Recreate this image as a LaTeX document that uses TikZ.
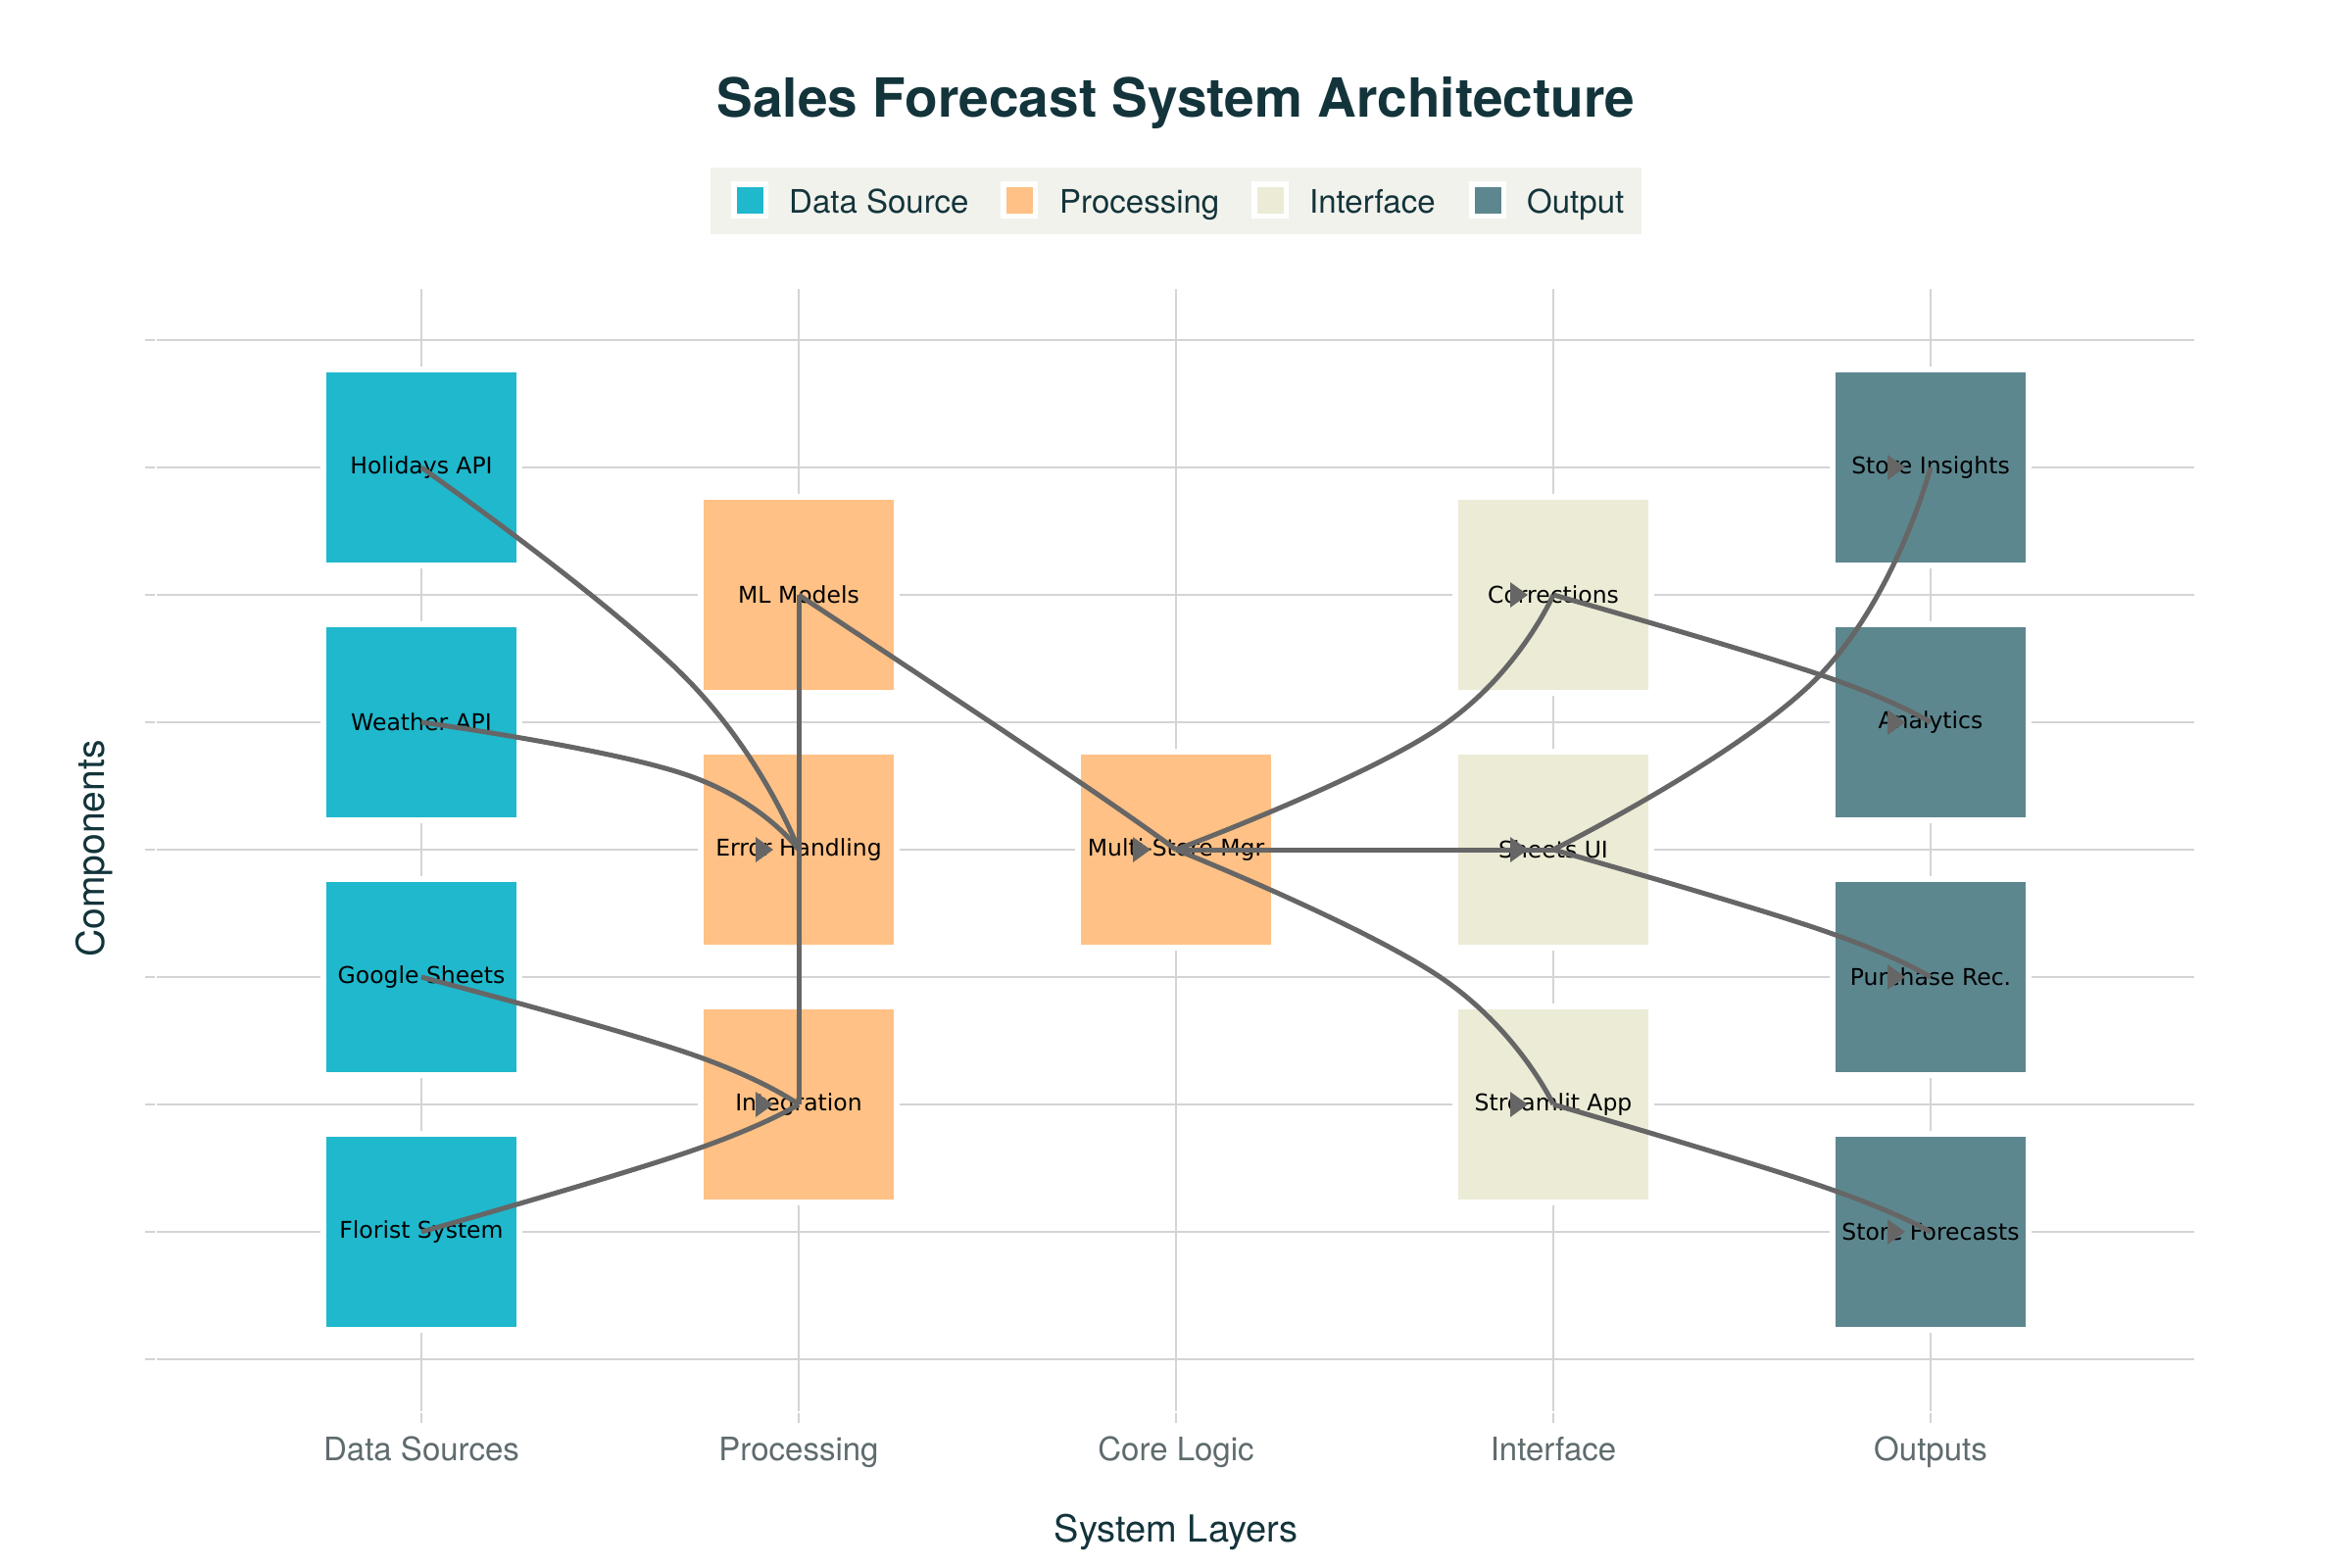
\documentclass[tikz,border=0pt]{standalone}
\usepackage{fontspec}
\setmainfont{TeX Gyre Heros}
\newfontfamily\djv{DejaVu Sans}
\usetikzlibrary{calc}
\definecolor{dsc}{HTML}{1FB8CD}
\definecolor{prc}{HTML}{FFC185}
\definecolor{ifc}{HTML}{ECEBD5}
\definecolor{outc}{HTML}{5D878F}
\definecolor{titc}{HTML}{13343B}
\definecolor{tickc}{HTML}{5F6B6E}
\definecolor{gridc}{HTML}{D4D4D4}
\definecolor{linec}{HTML}{666666}
\definecolor{legbg}{HTML}{F2F2EC}
\tikzset{
  gridline/.style={draw=gridc, line width=2pt},
  box/.style={rectangle, minimum width=200pt, minimum height=200pt, draw=white, line width=6pt, inner sep=0pt, text=black, font=\djv\fontsize{23.5}{28}\selectfont},
  conn/.style={draw=linec, line width=5pt, line join=round},
  tipfill/.style={fill=linec},
  legsq/.style={rectangle, minimum size=32.5pt, draw=white, line width=5.5pt, inner sep=0pt},
  legtxt/.style={anchor=base west, text=titc, font=\fontsize{33}{38}\selectfont, inner sep=0pt},
  ticklab/.style={anchor=base, text=tickc, font=\fontsize{33}{38}\selectfont, inner sep=0pt},
}
\newcommand\link[3]{%
  \path let \p1=(#1.center), \p2=(#2.center) in coordinate (m#1#2) at ({\x1+0.7*(\x2-\x1)},{\y1+#3*(\y2-\y1)});
  \draw[conn] plot[smooth,tension=0.75] coordinates {(#1.center) (m#1#2) (#2.center)};
}
\newcommand\tipat[1]{%
  \fill[tipfill] ([xshift=-44pt,yshift=13pt]#1.center) -- ([xshift=-26pt]#1.center) -- ([xshift=-44pt,yshift=-13pt]#1.center) -- cycle;
}
\begin{document}
\begin{tikzpicture}[x=1pt,y=-1pt]
\useasboundingbox (0,0) rectangle (2400,1600);
\fill[white] (0,0) rectangle (2400,1600);

% title
\node[anchor=base, text=titc, font=\bfseries\fontsize{55}{60}\selectfont, inner sep=0pt] (title) at (1200,120) {Sales Forecast System Architecture};

% legend
\fill[legbg] (725,171) rectangle (1675,239);
\node[legsq, fill=dsc] (lg1) at (765,204) {};
\node[legtxt] (lt1) at (805,217) {Data Source};
\node[legsq, fill=prc] (lg2) at (1040,204) {};
\node[legtxt] (lt2) at (1081,217) {Processing};
\node[legsq, fill=ifc] (lg3) at (1296,204) {};
\node[legtxt] (lt3) at (1336,217) {Interface};
\node[legsq, fill=outc] (lg4) at (1518,204) {};
\node[legtxt] (lt4) at (1558,217) {Output};

% grid
\foreach \r in {0,...,8} {
  \draw[gridline] (160,{347+130*\r}) -- (2239,{347+130*\r});
  \draw[gridline] (148,{347+130*\r}) -- (158,{347+130*\r});
}
\foreach \c in {0,...,4} {
  \draw[gridline] ({430+385*\c},295) -- ({430+385*\c},1440);
  \draw[gridline] ({430+385*\c},1442) -- ({430+385*\c},1452);
}

% axis labels
\node[ticklab] (x1) at (430,1490) {Data Sources};
\node[ticklab] (x2) at (815,1490) {Processing};
\node[ticklab] (x3) at (1200,1490) {Core Logic};
\node[ticklab] (x4) at (1585,1490) {Interface};
\node[ticklab] (x5) at (1970,1490) {Outputs};
\node[anchor=base, text=titc, font=\fontsize{38}{44}\selectfont, inner sep=0pt] (xt) at (1200,1573) {System Layers};
\node[anchor=base, rotate=90, text=titc, font=\fontsize{39}{44}\selectfont, inner sep=0pt] (yt) at (106,866) {Components};

% nodes
\node[box, fill=dsc] (hol) at (430,477) {Holidays API};
\node[box, fill=dsc] (wea) at (430,737) {Weather API};
\node[box, fill=dsc] (goo) at (430,997) {Google Sheets};
\node[box, fill=dsc] (flo) at (430,1257) {Florist System};
\node[box, fill=prc] (ml) at (815,607) {ML Models};
\node[box, fill=prc] (err) at (815,867) {Error Handling};
\node[box, fill=prc] (int) at (815,1127) {Integration};
\node[box, fill=prc] (multi) at (1200,867) {Multi-Store Mgr};
\node[box, fill=ifc] (cor) at (1585,607) {Corrections};
\node[box, fill=ifc] (sui) at (1585,867) {Sheets UI};
\node[box, fill=ifc] (str) at (1585,1127) {Streamlit App};
\node[box, fill=outc] (ins) at (1970,477) {Store Insights};
\node[box, fill=outc] (ana) at (1970,737) {Analytics};
\node[box, fill=outc] (pur) at (1970,997) {Purchase Rec.};
\node[box, fill=outc] (for) at (1970,1257) {Store Forecasts};

% connectors
\link{hol}{err}{0.55}
\link{wea}{err}{0.41}
\link{goo}{int}{0.59}
\link{flo}{int}{0.62}
\draw[conn] (ml.center) -- (int.center);
\link{ml}{multi}{0.69}
\link{multi}{cor}{0.48}
\draw[conn] (multi.center) -- (sui.center);
\link{multi}{str}{0.5}
\link{cor}{ana}{0.62}
\link{sui}{ins}{0.45}
\link{sui}{pur}{0.62}
\link{str}{for}{0.63}

% arrow tips
\tipat{err}
\tipat{int}
\tipat{multi}
\tipat{cor}
\tipat{sui}
\tipat{str}
\tipat{ins}
\tipat{ana}
\tipat{pur}
\tipat{for}
\end{tikzpicture}
\end{document}
